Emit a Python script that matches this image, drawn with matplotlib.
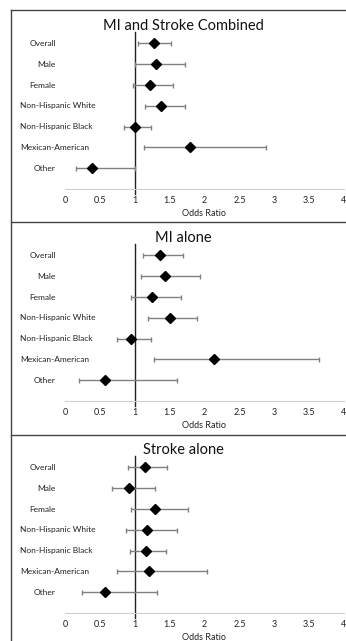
import matplotlib
matplotlib.use("Agg")
import matplotlib.pyplot as plt
from matplotlib.lines import Line2D

plt.rcParams['font.family'] = ['Lato', 'DejaVu Sans']

# data (odds ratio, lower CI, upper CI), rows top to bottom
groups = ["Overall", "Male", "Female", "Non-Hispanic White",
          "Non-Hispanic Black", "Mexican-American", "Other"]
titles = ["MI and Stroke Combined", "MI alone", "Stroke alone"]

combined_or = [1.27, 1.30, 1.22, 1.38, 1.01, 1.79, 0.39]
combined_lo = [1.05, 1.00, 0.97, 1.14, 0.85, 1.13, 0.16]
combined_hi = [1.52, 1.72, 1.55, 1.72, 1.24, 2.88, 1.00]

mi_or = [1.36, 1.43, 1.25, 1.50, 0.95, 2.14, 0.58]
mi_lo = [1.12, 1.09, 0.95, 1.19, 0.74, 1.28, 0.20]
mi_hi = [1.69, 1.93, 1.66, 1.89, 1.23, 3.64, 1.60]

stroke_or = [1.14, 0.92, 1.29, 1.17, 1.16, 1.21, 0.58]
stroke_lo = [0.90, 0.67, 0.95, 0.87, 0.93, 0.74, 0.25]
stroke_hi = [1.46, 1.29, 1.76, 1.61, 1.45, 2.04, 1.32]

xticks = [0, 0.5, 1, 1.5, 2, 2.5, 3, 3.5, 4]
xticklabels = ["0", "0.5", "1", "1.5", "2", "2.5", "3", "3.5", "4"]

panels = [(combined_or, combined_lo, combined_hi),
          (mi_or, mi_lo, mi_hi),
          (stroke_or, stroke_lo, stroke_hi)]

W, H = 346, 641
fig = plt.figure(figsize=(W / 100, H / 100), dpi=100)

def fx(px):
    return px / W

def fy(py):
    return 1 - py / H

edge = "#444444"
# panel frames
fig.add_artist(Line2D([fx(10.5), fx(10.5)], [fy(10), fy(641)], color=edge, lw=1.0))
for yline in [10, 222, 435]:
    fig.add_artist(Line2D([fx(10.5), 1], [fy(yline), fy(yline)], color=edge, lw=1.0))

n = len(groups)
rows = list(range(n, 0, -1))
ytop = 7.55

for i, (orv, lo, hi) in enumerate(panels):
    off = i * 212
    axis_y = 189 + off
    top_y = 32 + off
    ax = fig.add_axes([fx(65), fy(axis_y), fx(344 - 65), (axis_y - top_y) / H])
    ax.set_xlim(0, 4)
    ax.set_ylim(0, ytop)
    for s in ["top", "right", "left"]:
        ax.spines[s].set_visible(False)
    ax.spines["bottom"].set_color("#d0d0d0")
    ax.set_yticks([])
    ax.set_xticks(xticks)
    ax.set_xticklabels(xticklabels, fontsize=6.5)
    ax.tick_params(axis="x", length=0, pad=5, colors="#222222")
    ax.set_xlabel("Odds Ratio", fontsize=6.5, labelpad=3, color="#222222")

    ax.axvline(1, ymin=-0.03, ymax=1, color="#222222", lw=1.0, clip_on=False, zorder=2)

    xerr = [[o - l for o, l in zip(orv, lo)], [h - o for o, h in zip(orv, hi)]]
    ax.errorbar(orv, rows, xerr=xerr, fmt="none", ecolor="#808080",
                elinewidth=1.0, capsize=1.8, capthick=1.0, zorder=3)
    ax.plot(orv, rows, "D", color="black", ms=5.4, zorder=4, clip_on=False)

    # category labels: short ones right-aligned, long ones start at the left
    for g, r in zip(groups, rows):
        ypx = axis_y - r * (axis_y - top_y) / ytop
        if len(g) > 10:
            fig.text(fx(20), fy(ypx), g, fontsize=6, ha="left", va="center", color="#222222")
        else:
            fig.text(fx(56), fy(ypx), g, fontsize=6, ha="right", va="center", color="#222222")

    fig.text(fx(183), fy(26 + off), titles[i], fontsize=10.5, ha="center", va="center", color="#111111")

fig.savefig("out.png", dpi=100)
